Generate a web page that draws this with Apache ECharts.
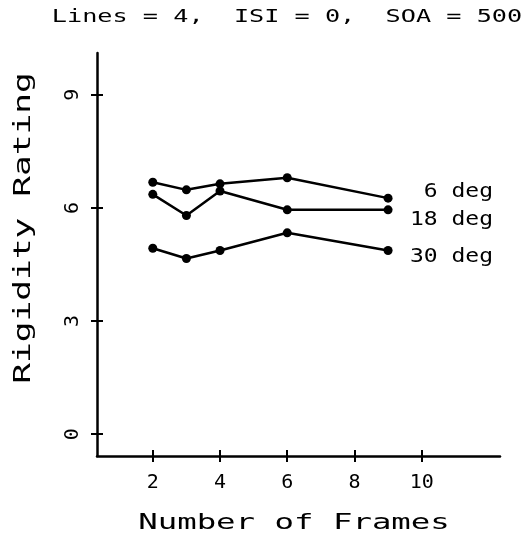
<!DOCTYPE html>
<html>
<head>
<meta charset="utf-8">
<script src="https://cdn.jsdelivr.net/npm/echarts@6/dist/echarts.min.js"></script>
<style>html,body{margin:0;padding:0;background:#fff;}#c{width:531px;height:538px;}</style>
</head>
<body>
<div id="c"></div>
<script>
const frames = [2, 3, 4, 6, 9];
const deg6 = [6.68, 6.48, 6.64, 6.80, 6.26];
const deg18 = [6.36, 5.80, 6.45, 5.95, 5.95];
const deg30 = [4.93, 4.66, 4.87, 5.34, 4.87];
const seriesNames = ['6 deg', '18 deg', '30 deg'];
const xTicks = [2, 4, 6, 8, 10];
const yTicks = [0, 3, 6, 9];
const titleText = 'Lines = 4,  ISI = 0,  SOA = 500';
const xName = 'Number of Frames';
const yName = 'Rigidity Rating';

const FONT = '"DejaVu Sans Mono", monospace';
const chart = echarts.init(document.getElementById('c'), null, {renderer: 'canvas'});

function pairs(vals) { return frames.map((f, i) => [f, vals[i]]); }
function mkSeries(name, vals) {
  return {
    name: name, type: 'line', data: pairs(vals),
    symbol: 'circle', symbolSize: 9,
    lineStyle: {color: '#000', width: 2.5},
    itemStyle: {color: '#000'},
    animation: false
  };
}
const axisX = (inside, showLabel, showLine) => ({
  type: 'value', position: 'bottom', min: 0.34, max: 12.33,
  axisLine: {show: showLine, onZero: false, lineStyle: {color: '#000', width: 2.5}},
  axisTick: {show: true, inside: inside, length: 6, customValues: xTicks, lineStyle: {color: '#000', width: 2}},
  axisLabel: {show: showLabel, customValues: xTicks, margin: 17, fontFamily: FONT, fontSize: 20, color: '#000'},
  splitLine: {show: false}
});
const axisY = (inside, showLabel, showLine) => ({
  type: 'value', position: 'left', min: -0.58, max: 10.11,
  axisLine: {show: showLine, onZero: false, lineStyle: {color: '#000', width: 2.5}},
  axisTick: {show: true, inside: inside, length: 6, customValues: yTicks, lineStyle: {color: '#000', width: 2}},
  axisLabel: {show: showLabel, customValues: yTicks, rotate: 90, margin: 14, fontFamily: FONT, fontSize: 20, color: '#000'},
  splitLine: {show: false}
});

chart.setOption({
  backgroundColor: '#fff',
  animation: false,
  grid: {left: 97, right: 31, top: 53, bottom: 82},
  xAxis: [axisX(false, true, true), axisX(true, false, false)],
  yAxis: [axisY(false, true, true), axisY(true, false, false)],
  series: [mkSeries(seriesNames[0], deg6), mkSeries(seriesNames[1], deg18), mkSeries(seriesNames[2], deg30)],
  graphic: [
    {type: 'text', x: 287, y: 17, scaleX: 1.4, style: {text: titleText, font: '18px ' + FONT, fill: '#000', textAlign: 'center', textVerticalAlign: 'middle'}},
    {type: 'text', x: 294, y: 523, scaleX: 1.47, style: {text: xName, font: '22px ' + FONT, fill: '#000', textAlign: 'center', textVerticalAlign: 'middle'}},
    {type: 'text', x: 24, y: 228, rotation: Math.PI / 2, scaleX: 1.5, style: {text: yName, font: '23px ' + FONT, fill: '#000', textAlign: 'center', textVerticalAlign: 'middle'}},
    {type: 'text', x: 493, y: 192, scaleX: 1.15, style: {text: seriesNames[0], font: '20px ' + FONT, fill: '#000', textAlign: 'right', textVerticalAlign: 'middle'}},
    {type: 'text', x: 493, y: 220, scaleX: 1.15, style: {text: seriesNames[1], font: '20px ' + FONT, fill: '#000', textAlign: 'right', textVerticalAlign: 'middle'}},
    {type: 'text', x: 493, y: 257, scaleX: 1.15, style: {text: seriesNames[2], font: '20px ' + FONT, fill: '#000', textAlign: 'right', textVerticalAlign: 'middle'}}
  ]
});
</script>
</body>
</html>
